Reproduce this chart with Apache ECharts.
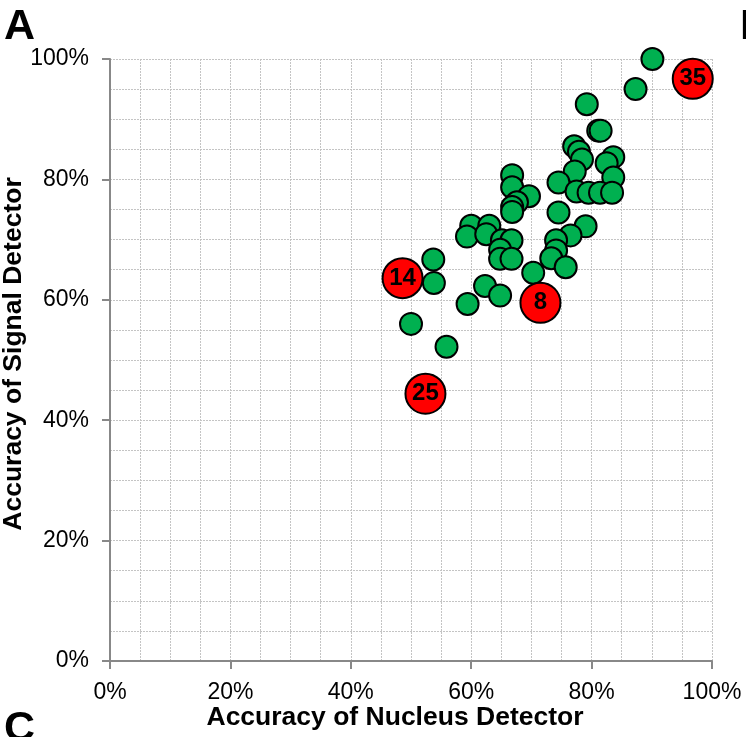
<!DOCTYPE html>
<html lang="en">
<head>
<meta charset="UTF-8"/>
<script src="https://cdn.jsdelivr.net/npm/echarts@6/dist/echarts.min.js"></script>
<title>Accuracy</title>
<style>
  html, body { margin: 0; padding: 0; background: #fff; }
  #main { width: 746px; height: 737px; }
</style>
</head>
<body>
<div id="main"></div>
<script type="text/javascript">
// accuracy in percent: [nucleus detector, signal detector]
var greenPoints = [
    [90.1, 100.0], [87.3, 95.0], [79.2, 92.5], [81.1, 88.1], [81.5, 88.1],
    [77.1, 85.5], [77.9, 84.6], [78.4, 83.3], [83.6, 83.7], [82.5, 82.7],
    [77.2, 81.3], [74.5, 79.5], [83.6, 80.3], [77.5, 78.0], [79.5, 77.8],
    [81.4, 77.8], [83.4, 77.8], [66.8, 80.7], [66.8, 78.7], [69.6, 77.2],
    [67.6, 76.2], [66.8, 75.4], [66.8, 74.6], [74.5, 74.5], [60.0, 72.3],
    [63.0, 72.3], [59.3, 70.5], [62.5, 70.9], [65.1, 69.9], [66.7, 69.9],
    [64.8, 68.3], [64.8, 66.8], [66.7, 66.8], [79.0, 72.2], [76.5, 70.7],
    [74.1, 69.9], [74.1, 68.2], [73.3, 66.9], [75.7, 65.4], [70.3, 64.5],
    [53.7, 66.7], [53.8, 62.8], [59.4, 59.3], [62.3, 62.3], [64.8, 60.7],
    [50.0, 56.0], [55.9, 52.2]
];
var redPoints = [
    [48.6, 63.6], [71.5, 59.5], [52.4, 44.4], [96.8, 96.7]
];
var redLabels = ['14', '8', '25', '35'];

var myChart = echarts.init(document.getElementById('main'));

var gridLine = { show: true, lineStyle: { color: '#c4c4c4', type: [2, 1], width: 1 } };

option = {
    animation: false,
    grid: { left: 110, top: 59, right: 34, bottom: 76 },
    xAxis: {
        type: 'value', min: 0, max: 100, interval: 20,
        axisLine: { show: true, lineStyle: { color: '#888', width: 2 } },
        axisTick: { show: true, length: 8, lineStyle: { color: '#888', width: 2 } },
        axisLabel: { formatter: '{value}%', fontSize: 23, color: '#000', margin: 20, fontFamily: 'Liberation Sans' },
        splitLine: gridLine,
        minorTick: { show: false, splitNumber: 4 },
        minorSplitLine: gridLine
    },
    yAxis: {
        type: 'value', min: 0, max: 100, interval: 20,
        axisLine: { show: true, lineStyle: { color: '#888', width: 2 } },
        axisTick: { show: true, length: 8, lineStyle: { color: '#888', width: 2 } },
        axisLabel: { formatter: '{value}%', fontSize: 23, color: '#000', margin: 21, fontFamily: 'Liberation Sans' },
        splitLine: gridLine,
        minorTick: { show: false, splitNumber: 4 },
        minorSplitLine: gridLine
    },
    graphic: [
        { type: 'text', left: 4, top: 6, style: { text: 'A', fontSize: 43, fontWeight: 'bold', fill: '#000', fontFamily: 'Liberation Sans' } },
        { type: 'text', left: 4, top: 708, style: { text: 'C', fontSize: 43, fontWeight: 'bold', fill: '#000', fontFamily: 'Liberation Sans' } },
        { type: 'text', left: 740, top: 6, style: { text: 'B', fontSize: 43, fontWeight: 'bold', fill: '#000', fontFamily: 'Liberation Sans' } },
        { type: 'text', x: 395, y: 718, style: { text: 'Accuracy of Nucleus Detector', fontSize: 26.5, fontWeight: 'bold', fill: '#000', align: 'center', verticalAlign: 'middle', fontFamily: 'Liberation Sans' } },
        { type: 'text', x: 14, y: 354, rotation: Math.PI / 2, style: { text: 'Accuracy of Signal Detector', fontSize: 26.5, fontWeight: 'bold', fill: '#000', align: 'center', verticalAlign: 'middle', fontFamily: 'Liberation Sans' } }
    ],
    series: [
        {
            type: 'scatter',
            data: greenPoints,
            symbolSize: 22,
            itemStyle: { color: '#00b050', borderColor: '#000', borderWidth: 2, opacity: 1 }
        },
        {
            type: 'scatter',
            data: redPoints.map(function (p, i) { return { value: p, name: redLabels[i] }; }),
            symbolSize: 40,
            itemStyle: { color: '#ff0000', borderColor: '#000', borderWidth: 2, opacity: 1 },
            label: {
                show: true, position: 'inside', formatter: '{b}',
                fontSize: 24, fontWeight: 'bold', color: '#000', fontFamily: 'Liberation Sans'
            }
        }
    ]
};

myChart.setOption(option);
</script>
</body>
</html>
